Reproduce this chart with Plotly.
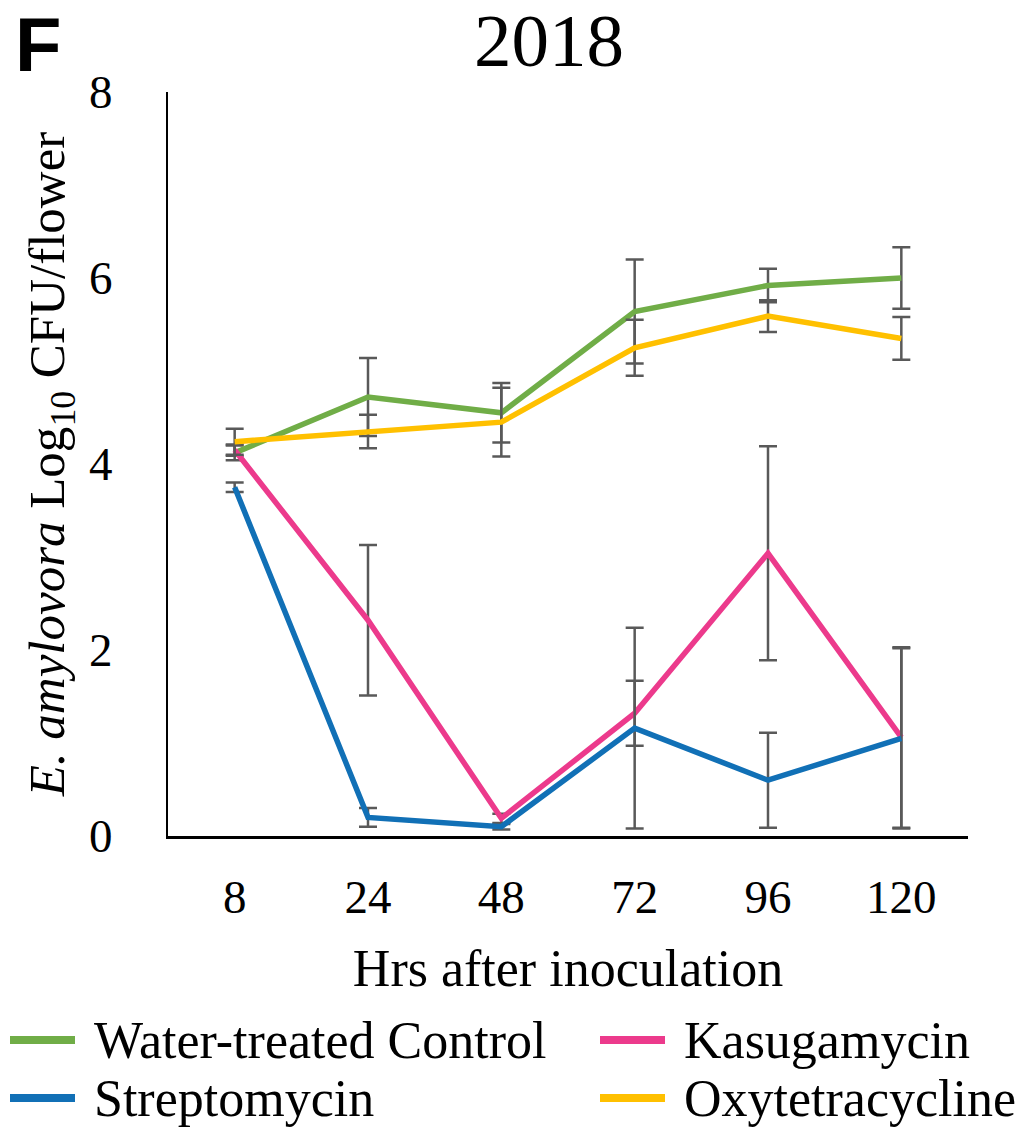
import plotly.graph_objects as go

hours = ["8", "24", "48", "72", "96", "120"]

water = [4.12, 4.72, 4.55, 5.64, 5.92, 6.00]
water_err = [0.08, 0.42, 0.32, 0.56, 0.18, 0.33]

kasug = [4.15, 2.32, 0.19, 1.32, 3.04, 1.06]
kasug_err = [0.06, 0.81, 0.05, 0.35, 1.15, 0.97]

strep = [3.75, 0.20, 0.10, 1.16, 0.60, 1.05]
strep_err = [0.05, 0.10, 0.03, 1.08, 0.51, 0.97]

oxy = [4.24, 4.35, 4.45, 5.25, 5.59, 5.35]
oxy_err = [0.14, 0.18, 0.37, 0.30, 0.17, 0.23]

series = [
    ("Water-treated Control", water, water_err, "#70AD47"),
    ("Kasugamycin", kasug, kasug_err, "#EC3A8C"),
    ("Streptomycin", strep, strep_err, "#1170B6"),
    ("Oxytetracycline", oxy, oxy_err, "#FFC000"),
]

serif = "Liberation Serif, Times New Roman, serif"

W, H = 1020, 1129
ML, MR, MT, MB = 168, 52, 92, 293
PW, PH = W - ML - MR, H - MT - MB


def px_x(px):
    return (px - ML) / PW


def px_y(py):
    return (H - MB - py) / PH


fig = go.Figure()
for name, vals, errs, col in series:
    fig.add_trace(go.Scatter(
        x=hours, y=vals, name=name, mode="lines",
        line=dict(color=col, width=5.5),
        error_y=dict(type="data", array=errs, visible=True,
                     color="#595959", thickness=2.5, width=9),
    ))

fig.update_layout(
    width=W, height=H,
    margin=dict(l=ML, r=MR, t=MT, b=MB, autoexpand=False),
    paper_bgcolor="white", plot_bgcolor="white",
    font=dict(family=serif, color="black", size=47),
    title=dict(text="2018", x=549 / W, xref="container", xanchor="center",
               y=1 - 40 / H, yref="container", yanchor="middle",
               font=dict(size=75, family=serif, color="black")),
    showlegend=False,
)

fig.update_xaxes(
    type="category", range=[-0.5, 5.5], automargin=False,
    showline=True, linecolor="black", linewidth=3,
    showgrid=False, ticks="", ticklabelstandoff=18,
    tickfont=dict(size=47, family=serif),
    title=dict(text="Hrs after inoculation", font=dict(size=52, family=serif), standoff=28),
)
fig.update_yaxes(
    range=[0, 8], tickvals=[0, 2, 4, 6, 8], automargin=False,
    showline=True, linecolor="black", linewidth=2,
    showgrid=False, zeroline=False, ticks="", ticklabelstandoff=44,
    tickfont=dict(size=47, family=serif),
    title=dict(text="<i>E. amylovora</i> Log<sub>10</sub> CFU/flower",
               font=dict(size=51, family=serif), standoff=8),
)

# panel letter
fig.add_annotation(text="<b>F</b>", x=px_x(38), y=px_y(44), xref="paper", yref="paper",
                   xanchor="center", yanchor="middle", showarrow=False,
                   font=dict(size=76, family="Liberation Sans, Arial, sans-serif", color="black"))

# manual legend (2 columns)
legend_pos = [(10, 1040), (600, 1040), (10, 1098), (600, 1098)]
for (name, _, _, col), (lx, ly) in zip(series, legend_pos):
    fig.add_shape(type="line", xref="paper", yref="paper",
                  x0=px_x(lx), x1=px_x(lx + 65), y0=px_y(ly), y1=px_y(ly),
                  line=dict(color=col, width=8))
    fig.add_annotation(text=name, xref="paper", yref="paper",
                       x=px_x(lx + 82), y=px_y(ly), xanchor="left", yanchor="middle",
                       showarrow=False, font=dict(size=52, family=serif, color="black"))

fig.write_html("out.html")
